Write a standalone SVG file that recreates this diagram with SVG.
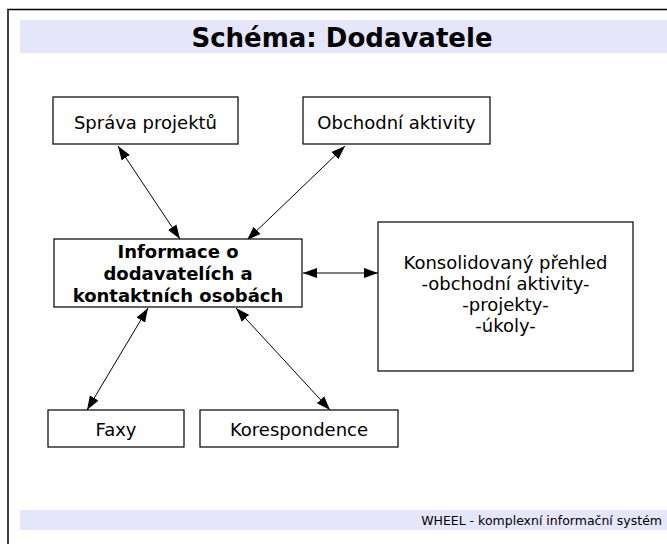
<svg xmlns="http://www.w3.org/2000/svg" width="667" height="544" viewBox="0 0 667 544">
<style>
text{font-family:"DejaVu Sans","Liberation Sans",sans-serif;fill:#000}
.box{fill:#fff;stroke:#000;stroke-width:1.2}
.lbl{font-size:18px;text-anchor:middle}
.bold{font-weight:bold}
.band{fill:#E6E6FA}
.conn{stroke:#000;stroke-width:1;fill:none;marker-start:url(#ah);marker-end:url(#ah)}
</style>
<defs>
<marker id="ah" markerUnits="userSpaceOnUse" markerWidth="15" markerHeight="11" refX="14" refY="5" orient="auto-start-reverse" viewBox="0 0 15 10">
<path d="M0,0 L14,5 L0,10 z" fill="#000"/>
</marker>
</defs>
<rect width="667" height="544" fill="#fff"/>
<path d="M8,544 V9.5 H667" fill="none" stroke="#000" stroke-width="1.5"/>
<g id="title">
<rect class="band" x="20" y="20" width="647" height="33"/>
<text x="342" y="47" font-size="26" font-weight="bold" text-anchor="middle">Schéma: Dodavatele</text>
</g>
<g id="footer">
<rect class="band" x="20" y="510" width="647" height="20"/>
<text x="662" y="525" font-size="12.5" text-anchor="end">WHEEL - komplexní informační systém</text>
</g>
<g id="connectors">
<line class="conn" x1="180" y1="239" x2="118" y2="146"/>
<line class="conn" x1="247" y1="240" x2="345" y2="146"/>
<line class="conn" x1="303" y1="273" x2="378" y2="273"/>
<line class="conn" x1="148" y1="308" x2="87" y2="410"/>
<line class="conn" x1="236" y1="308" x2="330" y2="410"/>
</g>
<g id="sprava">
<rect class="box" x="53" y="97" width="185" height="47"/>
<text class="lbl" x="145.5" y="129">Správa projektů</text>
</g>
<g id="obchodni">
<rect class="box" x="303" y="97" width="187" height="47"/>
<text class="lbl" x="396.5" y="129">Obchodní aktivity</text>
</g>
<g id="informace">
<rect class="box" x="54" y="239" width="248" height="68"/>
<text class="lbl bold" x="178" y="258">Informace o</text>
<text class="lbl bold" x="178" y="280">dodavatelích a</text>
<text class="lbl bold" x="178" y="302">kontaktních osobách</text>
</g>
<g id="konsolidovany">
<rect class="box" x="378" y="222" width="255" height="149"/>
<text class="lbl" x="505.5" y="269">Konsolidovaný přehled</text>
<text class="lbl" x="505.5" y="290">-obchodní aktivity-</text>
<text class="lbl" x="505.5" y="311">-projekty-</text>
<text class="lbl" x="505.5" y="332">-úkoly-</text>
</g>
<g id="faxy">
<rect class="box" x="48" y="410" width="136" height="37"/>
<text class="lbl" x="116" y="436">Faxy</text>
</g>
<g id="korespondence">
<rect class="box" x="200" y="410" width="198" height="37"/>
<text class="lbl" x="299" y="436">Korespondence</text>
</g>
</svg>
